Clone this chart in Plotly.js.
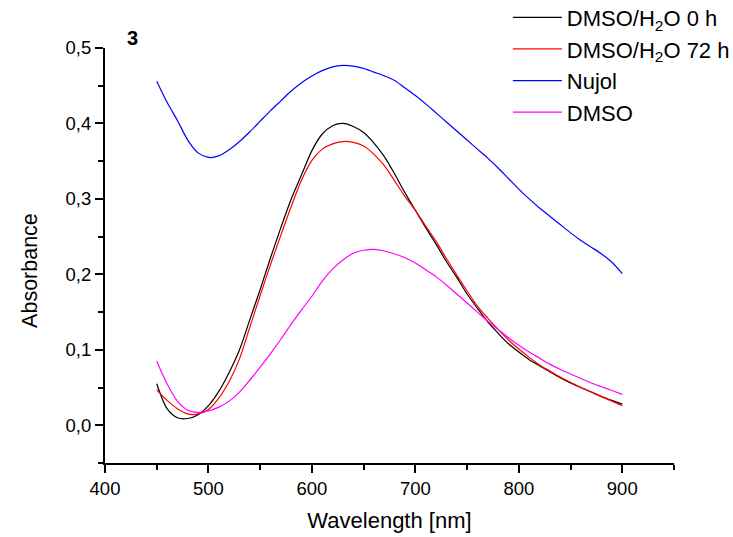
<!DOCTYPE html>
<html>
<head>
<meta charset="utf-8">
<script src="https://cdn.plot.ly/plotly-3.0.1.min.js"></script>
<style>html,body{margin:0;padding:0;background:#fff;}#chart{width:733px;height:537px;}</style>
</head>
<body>
<div id="chart"></div>
<script>
const wavelength = [450,460,470,480,490,500,510,520,530,540,550,560,570,580,590,600,610,620,630,640,650,660,670,680,690,700,710,720,730,740,750,760,770,780,790,800,810,820,830,840,850,860,870,880,890,900];

const dmsoH2O0h = [0.055,0.022,0.010,0.009,0.014,0.026,0.045,0.070,0.100,0.140,0.180,0.222,0.262,0.300,0.332,0.364,0.386,0.397,0.400,0.396,0.388,0.374,0.356,0.333,0.308,0.285,0.262,0.240,0.217,0.196,0.174,0.155,0.137,0.122,0.108,0.097,0.087,0.079,0.071,0.063,0.056,0.050,0.044,0.038,0.033,0.028];

const dmsoH2O72h = [0.047,0.033,0.022,0.015,0.015,0.021,0.036,0.058,0.088,0.130,0.172,0.213,0.252,0.290,0.325,0.351,0.366,0.373,0.376,0.375,0.370,0.359,0.344,0.324,0.303,0.285,0.264,0.244,0.221,0.199,0.178,0.158,0.142,0.127,0.113,0.101,0.090,0.080,0.072,0.064,0.057,0.050,0.044,0.038,0.032,0.026];

const nujol = [0.456,0.428,0.404,0.378,0.361,0.355,0.357,0.365,0.376,0.389,0.403,0.417,0.430,0.443,0.454,0.463,0.470,0.475,0.477,0.476,0.473,0.468,0.463,0.457,0.447,0.437,0.426,0.414,0.402,0.390,0.378,0.366,0.354,0.341,0.327,0.313,0.300,0.288,0.277,0.266,0.255,0.245,0.236,0.227,0.216,0.201];

const dmso = [0.085,0.055,0.032,0.020,0.017,0.019,0.024,0.032,0.044,0.060,0.077,0.095,0.114,0.134,0.153,0.171,0.191,0.207,0.219,0.228,0.232,0.233,0.231,0.227,0.222,0.215,0.206,0.197,0.186,0.174,0.162,0.150,0.138,0.127,0.116,0.106,0.097,0.089,0.081,0.074,0.068,0.062,0.056,0.051,0.046,0.041];

const seriesNames = ['DMSO/H<sub>2</sub>O 0 h','DMSO/H<sub>2</sub>O 72 h','Nujol','DMSO'];
const seriesColors = ['#000000','#ff0000','#0000ff','#ff00ff'];
const seriesValues = [dmsoH2O0h, dmsoH2O72h, nujol, dmso];

const FONT = 'Liberation Sans, Arial, sans-serif';

const traces = seriesValues.map((v, i) => ({
  x: wavelength,
  y: v,
  type: 'scatter',
  mode: 'lines',
  name: seriesNames[i],
  line: {color: seriesColors[i], width: 1.2, shape: 'spline', smoothing: 0.8}
}));

const layout = {
  width: 733,
  height: 537,
  margin: {l: 105, r: 59, t: 48, b: 74, pad: 0, autoexpand: false},
  paper_bgcolor: '#ffffff',
  plot_bgcolor: '#ffffff',
  separators: ', ',
  font: {family: FONT, color: '#000000', size: 18},
  showlegend: true,
  legend: {
    x: 0.708, y: 1.124, xanchor: 'left', yanchor: 'top',
    bgcolor: 'rgba(0,0,0,0)', borderwidth: 0,
    font: {family: FONT, size: 22, color: '#000000'},
    itemwidth: 49,
    tracegroupgap: 0
  },
  xaxis: {
    range: [400, 950],
    tickmode: 'linear', tick0: 400, dtick: 100,
    ticks: 'outside', ticklen: 8, tickwidth: 2, tickcolor: '#000',
    minor: {dtick: 50, tick0: 400, ticks: 'outside', ticklen: 5, tickwidth: 2, tickcolor: '#000', showgrid: false},
    showline: true, linecolor: '#000', linewidth: 2,
    showgrid: false, zeroline: false,
    tickfont: {family: FONT, size: 18.5, color: '#000'},
    title: {text: 'Wavelength [nm]', font: {family: FONT, size: 22, color: '#000'}, standoff: 14},
    fixedrange: true
  },
  yaxis: {
    range: [-0.05, 0.5],
    tickmode: 'linear', tick0: 0, dtick: 0.1, tickformat: '.1f',
    ticks: 'outside', ticklen: 8, tickwidth: 2, tickcolor: '#000',
    minor: {dtick: 0.05, tick0: 0, ticks: 'outside', ticklen: 5, tickwidth: 2, tickcolor: '#000', showgrid: false},
    showline: true, linecolor: '#000', linewidth: 2,
    showgrid: false, zeroline: false,
    tickfont: {family: FONT, size: 18.5, color: '#000'},
    fixedrange: true
  },
  annotations: [{
    text: '<b>3</b>', xref: 'paper', yref: 'paper', x: 0.048, y: 1.025,
    xanchor: 'center', yanchor: 'middle', showarrow: false,
    font: {family: FONT, size: 20, color: '#000'}
  }, {
    text: 'Absorbance', xref: 'paper', yref: 'paper', x: -0.132, y: 0.465,
    xanchor: 'center', yanchor: 'middle', showarrow: false, textangle: -90,
    font: {family: FONT, size: 21.5, color: '#000'}
  }]
};

Plotly.newPlot('chart', traces, layout, {staticPlot: true, displayModeBar: false});
</script>
</body>
</html>
